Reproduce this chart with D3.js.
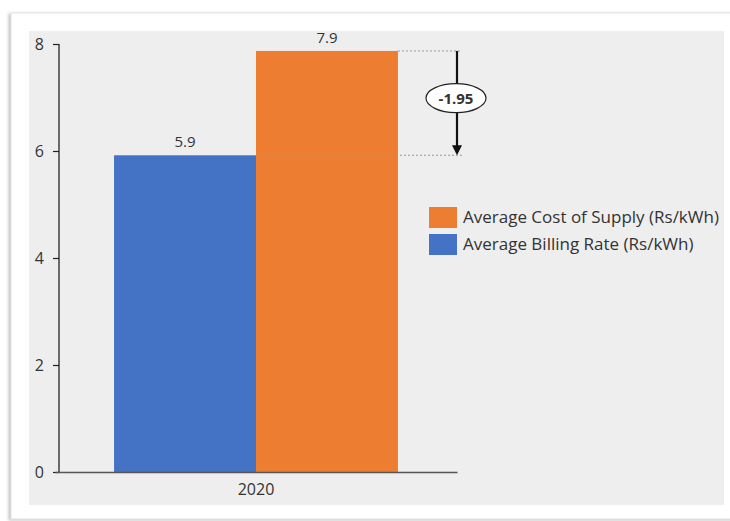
<!DOCTYPE html>
<html>
<head>
<meta charset="utf-8">
<script src="https://cdn.jsdelivr.net/npm/d3@7"></script>
<style>
  body { margin: 0; background: #fff; }
  text { font-family: "Open Sans", sans-serif; fill: #333; }
</style>
</head>
<body>
<script>
// Chart data
var years = ["2020"];
var seriesNames = ["Average Billing Rate (Rs/kWh)", "Average Cost of Supply (Rs/kWh)"];
var seriesValues = [5.92, 7.87];
var seriesColors = ["#4472c4", "#ed7d31"];
var gapLabel = "-1.95";
var yTicks = [0, 2, 4, 6, 8];

var W = 730, H = 521;

var svg = d3.select("body").append("svg")
    .attr("width", W)
    .attr("height", H);

// card with soft shadow
var defs = svg.append("defs");
var f = defs.append("filter").attr("id", "shadow").attr("x", "-5%").attr("y", "-5%").attr("width", "110%").attr("height", "110%");
f.append("feDropShadow").attr("dx", -2).attr("dy", 1).attr("stdDeviation", 1.5).attr("flood-color", "#999").attr("flood-opacity", 0.6);

svg.append("rect")
    .attr("x", 11).attr("y", 13)
    .attr("width", 730).attr("height", 506)
    .attr("fill", "#fff")
    .attr("stroke", "#e2e2e2")
    .attr("filter", "url(#shadow)");

// gray plot panel
svg.append("rect")
    .attr("x", 29).attr("y", 31)
    .attr("width", 695).attr("height", 474)
    .attr("fill", "#eeeeee");

// scales
var y = d3.scaleLinear().domain([0, 8]).range([472, 44]);
var x0 = d3.scaleBand().domain(years).range([55, 457]).paddingInner(0).paddingOuter(0.208);
var x1 = d3.scaleBand().domain(d3.range(seriesValues.length)).range([0, x0.bandwidth()]);

// y axis
var yAxis = svg.append("g")
    .attr("transform", "translate(59,0)")
    .call(d3.axisLeft(y).tickValues(yTicks).tickSize(6).tickSizeOuter(0).tickPadding(9));
yAxis.select(".domain").attr("stroke", "#222").attr("stroke-width", 1.3)
    .attr("d", "M0," + y(8) + "V" + y(0));
yAxis.selectAll(".tick line").attr("stroke", "#222").attr("stroke-width", 1.2);
yAxis.selectAll(".tick text").style("font-size", "16px").attr("fill", "#2a2a2a");

// bars
var g = svg.append("g");
g.selectAll("rect.bar")
    .data(seriesValues)
    .enter().append("rect")
    .attr("class", "bar")
    .attr("x", function(d, i) { return x0(years[0]) + x1(i); })
    .attr("y", function(d) { return y(d); })
    .attr("width", x1.bandwidth())
    .attr("height", function(d) { return y(0) - y(d); })
    .attr("fill", function(d, i) { return seriesColors[i]; });

// value labels
g.selectAll("text.val")
    .data(seriesValues)
    .enter().append("text")
    .attr("class", "val")
    .attr("x", function(d, i) { return x0(years[0]) + x1(i) + x1.bandwidth() / 2; })
    .attr("y", function(d) { return y(d) - 8; })
    .attr("text-anchor", "middle")
    .style("font-size", "15px")
    .attr("fill", "#2a2a2a")
    .text(function(d) { return d3.format(".1f")(d); });

// x axis
var xAxis = svg.append("g")
    .attr("transform", "translate(0," + y(0) + ")")
    .call(d3.axisBottom(x0).tickSize(0).tickSizeOuter(0).tickPadding(12));
xAxis.select(".domain").attr("stroke", "#555").attr("stroke-width", 1.5);
xAxis.selectAll(".tick text").style("font-size", "16px").attr("fill", "#2a2a2a");

// difference annotation
var orangeRight = x0(years[0]) + x1(1) + x1.bandwidth();
var blueRight = x0(years[0]) + x1(0) + x1.bandwidth();
var arrowX = 457;

svg.append("line")
    .attr("x1", orangeRight).attr("x2", arrowX + 5)
    .attr("y1", y(seriesValues[1])).attr("y2", y(seriesValues[1]))
    .attr("stroke", "#999").attr("stroke-dasharray", "2,2");
svg.append("line")
    .attr("x1", blueRight).attr("x2", arrowX + 5)
    .attr("y1", y(seriesValues[0])).attr("y2", y(seriesValues[0]))
    .attr("stroke", "#999").attr("stroke-dasharray", "2,2");

svg.append("line")
    .attr("x1", arrowX).attr("x2", arrowX)
    .attr("y1", y(seriesValues[1])).attr("y2", y(seriesValues[0]) - 8)
    .attr("stroke", "#111").attr("stroke-width", 2.2);
svg.append("path")
    .attr("d", "M" + (arrowX - 5) + "," + (y(seriesValues[0]) - 10) + "L" + (arrowX + 5) + "," + (y(seriesValues[0]) - 10) + "L" + arrowX + "," + y(seriesValues[0]) + "Z")
    .attr("fill", "#111");

var midY = (y(seriesValues[0]) + y(seriesValues[1])) / 2 - 5;
svg.append("ellipse")
    .attr("cx", arrowX - 1).attr("cy", midY)
    .attr("rx", 30).attr("ry", 14.5)
    .attr("fill", "#fff").attr("stroke", "#222").attr("stroke-width", 1.2);
svg.append("text")
    .attr("x", arrowX - 1).attr("y", midY + 5.5)
    .attr("text-anchor", "middle")
    .style("font-size", "15px").style("font-weight", "bold")
    .attr("fill", "#111")
    .text(gapLabel);

// legend (cost first, then billing)
var legendOrder = [1, 0];
var leg = svg.append("g").selectAll("g")
    .data(legendOrder)
    .enter().append("g")
    .attr("transform", function(d, i) { return "translate(429," + (207 + i * 27) + ")"; });
leg.append("rect")
    .attr("width", 28).attr("height", 21)
    .attr("fill", function(d) { return seriesColors[d]; });
leg.append("text")
    .attr("x", 34).attr("y", 16)
    .style("font-size", "17px")
    .attr("fill", "#404040")
    .text(function(d) { return seriesNames[d]; });
</script>
</body>
</html>
